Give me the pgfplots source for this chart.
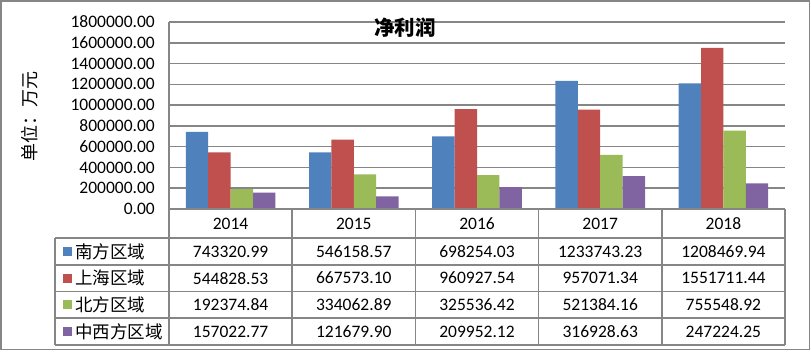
\documentclass[border=0pt]{standalone}
\usepackage{fontspec}
\setmainfont{Carlito}
\newfontfamily\cjk{Noto Sans CJK SC}
\usepackage{pgfplots}
\usepackage{pgfplotstable}
\pgfplotsset{compat=1.18}
\definecolor{sblue}{HTML}{4F81BD}
\definecolor{sred}{HTML}{C0504D}
\definecolor{sgreen}{HTML}{9BBB59}
\definecolor{spurple}{HTML}{8064A2}
\definecolor{gridc}{HTML}{868686}

\pgfplotstableread{
idx year south shanghai north midwest
0 2014 743320.99 544828.53 192374.84 157022.77
1 2015 546158.57 667573.10 334062.89 121679.90
2 2016 698254.03 960927.54 325536.42 209952.12
3 2017 1233743.23 957071.34 521384.16 316928.63
4 2018 1208469.94 1551711.44 755548.92 247224.25
}\datatable

\begin{document}
\begin{tikzpicture}[x=1pt,y=1pt]
\path[use as bounding box] (0,0) rectangle (811,351);
\begin{axis}[
  at={(169pt,142pt)}, anchor=south west,
  scale only axis, width=616pt, height=187pt,
  xmin=-0.5, xmax=4.5, ymin=0, ymax=1800000,
  ytick={0,200000,400000,600000,800000,1000000,1200000,1400000,1600000,1800000},
  xtick=\empty,
  scaled y ticks=false,
  /pgf/number format/assume math mode=true,
  yticklabel={\pgfmathprintnumber[fixed,fixed zerofill,precision=2,1000 sep={}]{\tick}},
  yticklabel style={font=\fontsize{17.5}{17.5}\selectfont, inner sep=0pt, xshift=-14pt},
  major tick length=0pt,
  axis x line*=bottom, axis y line*=left,
  axis line style={draw=gridc, line width=1.6pt},
  ymajorgrids, grid style={draw=gridc, line width=1.6pt},
  ybar=0pt, bar width=22.4pt,
  clip=false,
]
\addplot[fill=sblue, draw=none] table[x=idx, y=south] {\datatable};
\addplot[fill=sred, draw=none] table[x=idx, y=shanghai] {\datatable};
\addplot[fill=sgreen, draw=none] table[x=idx, y=north] {\datatable};
\addplot[fill=spurple, draw=none] table[x=idx, y=midwest] {\datatable};
\end{axis}
% title and y label
\node[font=\cjk\bfseries\fontsize{20.5}{20.5}\selectfont, inner sep=0pt] at (405,323) {净利润};
\node[font=\cjk\fontsize{18}{18}\selectfont, rotate=90, inner sep=0pt] at (30,234) {单位：万元};
% data table lines
\begin{scope}[draw=gridc, line width=1.6pt]
\draw (169,142) -- (785,142);
\foreach \yy in {113,86.25,59.5,32.75,6} {\draw (55,\yy) -- (785,\yy);}
\draw (55,6) -- (55,113);
\foreach \xx in {169,292.2,415.4,538.6,661.8,785} {\draw (\xx,6) -- (\xx,142);}
\end{scope}
% table text
\foreach \r in {0,...,4} {
  \pgfmathsetmacro{\cx}{230.6+123.2*\r}
  \pgfplotstablegetelem{\r}{year}\of\datatable
  \node[font=\fontsize{17.5}{17.5}\selectfont, inner sep=0pt] at (\cx,127.5) {\pgfplotsretval};
  \foreach \c/\cy in {south/99.6,shanghai/72.9,north/46.1,midwest/19.4} {
    \pgfplotstablegetelem{\r}{\c}\of\datatable
    \node[font=\fontsize{17.5}{17.5}\selectfont, inner sep=0pt] at (\cx,\cy) {\pgfplotsretval};
  }
}
% legend column
\foreach \col/\name/\cy in {sblue/南方区域/99.6, sred/上海区域/72.9, sgreen/北方区域/46.1, spurple/中西方区域/19.4} {
  \fill[\col] (62.7,\cy-4.5) rectangle (71.7,\cy+4.5);
  \node[font=\cjk\fontsize{17.5}{17.5}\selectfont, inner sep=0pt, anchor=west] at (75,\cy) {\name};
}
% outer border
\draw[gridc, line width=1.6pt] (1,1.5) rectangle (809.5,350);
\end{tikzpicture}
\end{document}
